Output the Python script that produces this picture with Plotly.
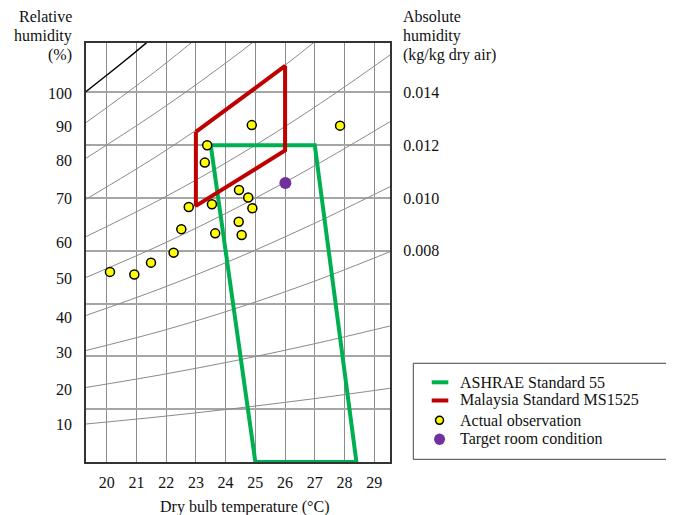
import plotly.graph_objects as go

# ---- data ----
# temperature (deg C) and humidity ratio (kg/kg)
rh_temps = [19.30, 21.86, 24.42, 26.97, 29.53]
rh_10 = [0.001439, 0.001723, 0.002042, 0.002398, 0.002791]
rh_20 = [0.002822, 0.003310, 0.003860, 0.004473, 0.005151]
rh_30 = [0.004223, 0.004969, 0.005844, 0.006840, 0.007965]
rh_40 = [0.005549, 0.006587, 0.007746, 0.009030, 0.010427]
rh_50 = [0.006988, 0.008246, 0.009655, 0.011204, 0.012889]
rh_60 = [0.008533, 0.009977, 0.011605, 0.013419, 0.015415]
rh_70 = [0.009950, 0.011708, 0.013688, 0.015893, 0.018324]
rh_80_temps = [19.30, 21.86, 24.42, 26.97]
rh_80 = [0.011503, 0.013385, 0.015465, 0.017749]
rh_90_temps = [19.30, 21.86, 24.42]
rh_90 = [0.012851, 0.014988, 0.017359]
sat_temps = [19.30, 20.65, 21.86]
sat_100 = [0.014026, 0.015234, 0.016374]

ashrae_temp = [23.5, 27.0, 28.4, 25.0, 23.5]
ashrae_w = [0.0120, 0.0120, 0.0, 0.0, 0.0120]

ms1525_temp = [23.0, 26.0, 26.0, 23.0, 23.0]
ms1525_w = [0.0125, 0.0150, 0.0118, 0.0097, 0.0125]

obs_temp = [20.11, 20.93, 21.49, 22.25, 22.51, 22.76, 23.54, 23.65, 24.45,
            24.76, 24.90, 24.44, 24.54, 23.38, 23.30, 24.88, 27.85]
obs_w = [0.00720, 0.00710, 0.00755, 0.00793, 0.00882, 0.00966, 0.00976,
         0.00866, 0.01030, 0.01002, 0.00961, 0.00910, 0.00860, 0.01200,
         0.01134, 0.01276, 0.01274]

target_temp = [26.01]
target_w = [0.01057]

temp_ticks = [20, 21, 22, 23, 24, 25, 26, 27, 28, 29]
w_ticks = [0.002, 0.004, 0.006, 0.008, 0.010, 0.012, 0.014]
w_tick_text = ["", "", "", "0.008", "0.010", "0.012", "0.014"]

rh_labels = ["100", "90", "80", "70", "60", "50", "40", "30", "20", "10"]
rh_label_w = [0.01396, 0.01269, 0.01143, 0.00998, 0.00833, 0.00695,
              0.00549, 0.00413, 0.00275, 0.00142]

left_header = ["Relative", "humidity", "(%)"]
right_header = ["Absolute", "humidity", "(kg/kg dry air)"]
legend_names = ["ASHRAE Standard 55", "Malaysia Standard MS1525",
                "Actual observation", "Target room condition"]

FONT = "Liberation Serif, Times New Roman, serif"
GREEN = "#00B050"
RED = "#C00000"
YELLOW = "#FFFF00"
PURPLE = "#7030A0"

fig = go.Figure()

gray_curves = [
    (rh_temps, rh_10), (rh_temps, rh_20), (rh_temps, rh_30), (rh_temps, rh_40),
    (rh_temps, rh_50), (rh_temps, rh_60), (rh_temps, rh_70),
    (rh_80_temps, rh_80), (rh_90_temps, rh_90),
]
for tx, wy in gray_curves:
    fig.add_trace(go.Scatter(x=tx, y=wy, mode="lines",
                             line=dict(color="#8a8a8a", width=1, shape="spline"),
                             showlegend=False, hoverinfo="skip"))
fig.add_trace(go.Scatter(x=sat_temps, y=sat_100, mode="lines",
                         line=dict(color="#000000", width=1.5, shape="spline"),
                         showlegend=False, hoverinfo="skip"))

fig.add_trace(go.Scatter(x=ashrae_temp, y=ashrae_w, mode="lines",
                         name=legend_names[0], showlegend=False,
                         line=dict(color=GREEN, width=4)))
fig.add_trace(go.Scatter(x=ms1525_temp, y=ms1525_w, mode="lines",
                         name=legend_names[1], showlegend=False,
                         line=dict(color=RED, width=4)))
fig.add_trace(go.Scatter(x=obs_temp, y=obs_w, mode="markers",
                         name=legend_names[2], showlegend=False,
                         marker=dict(color=YELLOW, size=9,
                                     line=dict(color="#000000", width=1.5))))
fig.add_trace(go.Scatter(x=target_temp, y=target_w, mode="markers",
                         name=legend_names[3], showlegend=False,
                         marker=dict(color=PURPLE, size=12)))

TXT = dict(size=16, color="#111", family=FONT)
annotations = []
for lab, wv in zip(rh_labels, rh_label_w):
    annotations.append(dict(x=0, xref="paper", y=wv, yref="y", text=lab,
                            showarrow=False, xanchor="right", yanchor="middle",
                            xshift=-12, font=TXT))
# header lines (paper y for page rows 17, 36, 55 px)
header_y = [1.0621, 1.0167, 0.9714]
for txt, yy in zip(left_header, header_y):
    annotations.append(dict(x=0, xref="paper", y=yy, yref="paper", text=txt,
                            showarrow=False, xanchor="right", yanchor="middle",
                            xshift=-12, font=TXT))
for txt, yy in zip(right_header, header_y):
    annotations.append(dict(x=1, xref="paper", y=yy, yref="paper", text=txt,
                            showarrow=False, xanchor="left", yanchor="middle",
                            xshift=11, font=TXT))
annotations.append(dict(x=0.523, xref="paper", y=-0.1074, yref="paper",
                        text="Dry bulb temperature (°C)", showarrow=False,
                        xanchor="center", yanchor="middle", font=TXT))

# ---- hand-placed legend (box, samples, labels) ----
leg_rows = [0.1902, 0.1468, 0.0995, 0.0542]
shapes = [dict(type="rect", xref="paper", yref="paper",
               x0=1.0766, x1=1.9135, y0=0.0064, y1=0.2356,
               line=dict(color="#444", width=1), fillcolor="rgba(0,0,0,0)")]
for yy, col in zip(leg_rows[:2], [GREEN, RED]):
    shapes.append(dict(type="line", xref="paper", yref="paper",
                       x0=1.1372, x1=1.1918, y0=yy, y1=yy,
                       line=dict(color=col, width=4)))
shapes.append(dict(type="circle", xref="paper", yref="paper",
                   x0=1.1497, x1=1.1760, y0=0.0900, y1=0.1091,
                   fillcolor=YELLOW, line=dict(color="#000", width=1.5)))
shapes.append(dict(type="circle", xref="paper", yref="paper",
                   x0=1.1450, x1=1.1810, y0=0.0405, y1=0.0678,
                   fillcolor=PURPLE, line=dict(color=PURPLE, width=0)))
for txt, yy in zip(legend_names, leg_rows):
    annotations.append(dict(x=1.2237, xref="paper", y=yy, yref="paper",
                            text=txt, showarrow=False, xanchor="left",
                            yanchor="middle", font=TXT))

fig.update_layout(
    width=666, height=507, autosize=False,
    margin=dict(l=78, r=284, t=35, b=53, pad=0),
    paper_bgcolor="white", plot_bgcolor="white",
    font=dict(family=FONT, size=16, color="#111"),
    annotations=annotations,
    shapes=shapes,
    showlegend=False,
    xaxis=dict(range=[19.304, 29.529], tickvals=temp_ticks,
               showgrid=True, gridcolor="#8c8c8c", gridwidth=1,
               zeroline=False, showline=True, linecolor="#333", linewidth=2,
               mirror=True, ticks="", ticklabelstandoff=5,
               tickfont=TXT),
    yaxis=dict(range=[0, 0.01587], tickvals=w_ticks, ticktext=w_tick_text,
               side="right", showgrid=True, gridcolor="#a6a6a6", gridwidth=1.5,
               zeroline=False, showline=True, linecolor="#333", linewidth=2,
               mirror=True, ticks="", ticklabelstandoff=8,
               tickfont=TXT),
)

fig.write_html("out.html")
